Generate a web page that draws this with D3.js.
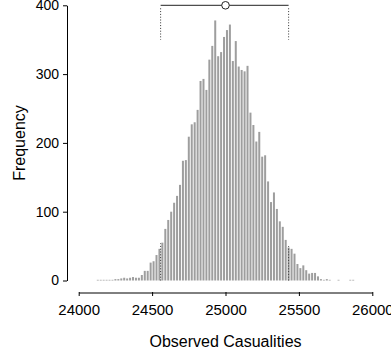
<!DOCTYPE html>
<html>
<head>
<meta charset="utf-8">
<script src="https://cdn.jsdelivr.net/npm/d3@7"></script>
<style>
  body { margin: 0; background: #fff; }
  svg { display: block; font-family: "Liberation Sans", Arial, sans-serif; }
</style>
</head>
<body>
<div id="chart"></div>
<script>
// histogram bins (centre of each 20-wide bin) and their counts
var binCenters = [24130, 24150, 24170, 24190, 24210, 24230, 24250, 24270, 24290, 24310,
  24330, 24350, 24370, 24390, 24410, 24430, 24450, 24470, 24490, 24510,
  24530, 24550, 24570, 24590, 24610, 24630, 24650, 24670, 24690, 24710,
  24730, 24750, 24770, 24790, 24810, 24830, 24850, 24870, 24890, 24910,
  24930, 24950, 24970, 24990, 25010, 25030, 25050, 25070, 25090, 25110,
  25130, 25150, 25170, 25190, 25210, 25230, 25250, 25270, 25290, 25310,
  25330, 25350, 25370, 25390, 25410, 25430, 25450, 25470, 25490, 25510,
  25530, 25550, 25570, 25590, 25610, 25630, 25650, 25670, 25690, 25710,
  25730, 25750, 25770, 25790, 25810, 25830, 25850, 25870];
var counts = [1, 1, 1, 1, 1, 1, 2, 2, 3, 4,
  3, 4, 5, 4, 4, 8, 14, 14, 26, 28,
  37, 46, 55, 75, 88, 100, 113, 123, 139, 174,
  175, 209, 227, 230, 248, 290, 293, 277, 321, 341,
  378, 326, 332, 354, 364, 372, 319, 348, 311, 306,
  304, 312, 244, 226, 202, 216, 180, 182, 144, 114,
  128, 104, 86, 78, 59, 48, 46, 39, 24, 18,
  22, 15, 10, 11, 11, 6, 2, 1, 2, 1,
  0, 0, 1, 0, 0, 0, 1, 1];

// 95% interval, point estimate, and frequency at each bound
var interval = [24558, 25430];
var intervalHeights = [54, 50];
var pointEstimate = 25000;

var xTicks = [24000, 24500, 25000, 25500, 26000];
var yTicks = [0, 100, 200, 300, 400];

var width = 391, height = 358;

var svg = d3.select('#chart').append('svg')
  .attr('width', width)
  .attr('height', height);

var x = d3.scaleLinear().domain([24000, 26000]).range([78.7, 372.3]);
var y = d3.scaleLinear().domain([0, 400]).range([280.5, 5.3]);

// bars
svg.append('g').selectAll('rect')
  .data(binCenters)
  .enter().append('rect')
  .attr('x', function(d) { return x(d) - 1; })
  .attr('width', 2)
  .attr('y', function(d, i) { return y(counts[i]); })
  .attr('height', function(d, i) { return y(0) - y(counts[i]); })
  .attr('fill', '#9e9e9e');

// dotted markers at the interval bounds, inside the histogram and under the top bar
var dots = svg.append('g')
  .attr('stroke', '#333')
  .attr('stroke-width', 1)
  .attr('stroke-dasharray', '1,1.8');
interval.forEach(function(v, i) {
  dots.append('line')
    .attr('x1', x(v)).attr('x2', x(v))
    .attr('y1', y(0)).attr('y2', y(intervalHeights[i]));
  dots.append('line')
    .attr('x1', x(v)).attr('x2', x(v))
    .attr('y1', y(400) + 3).attr('y2', y(350));
});

// interval line + point estimate
svg.append('line')
  .attr('x1', x(interval[0])).attr('x2', x(interval[1]))
  .attr('y1', y(400)).attr('y2', y(400))
  .attr('stroke', '#222')
  .attr('stroke-width', 1);
svg.append('circle')
  .attr('cx', x(pointEstimate))
  .attr('cy', y(400))
  .attr('r', 3.8)
  .attr('fill', '#fff')
  .attr('stroke', '#222')
  .attr('stroke-width', 1);

// y axis
var yAxis = svg.append('g')
  .attr('transform', 'translate(67,0)')
  .call(d3.axisLeft(y).tickValues(yTicks).tickSize(4).tickSizeOuter(0).tickPadding(4));
yAxis.selectAll('text').style('font-size', '14px').attr('fill', '#000');
yAxis.selectAll('line, path').attr('stroke', '#000');

// x axis
var xAxis = svg.append('g')
  .attr('transform', 'translate(0,292)')
  .call(d3.axisBottom(x).tickValues(xTicks).tickFormat(d3.format('d')).tickSize(4).tickSizeOuter(0).tickPadding(8));
xAxis.selectAll('text').style('font-size', '15px').attr('fill', '#000');
xAxis.selectAll('line, path').attr('stroke', '#000');
xAxis.select('.domain').attr('transform', 'translate(0,0.5)');

// axis titles
svg.append('text')
  .attr('x', 225.5)
  .attr('y', 347)
  .attr('text-anchor', 'middle')
  .style('font-size', '16px')
  .text('Observed Casualities');

svg.append('text')
  .attr('transform', 'translate(25,143) rotate(-90)')
  .attr('text-anchor', 'middle')
  .style('font-size', '16px')
  .text('Frequency');
</script>
</body>
</html>
